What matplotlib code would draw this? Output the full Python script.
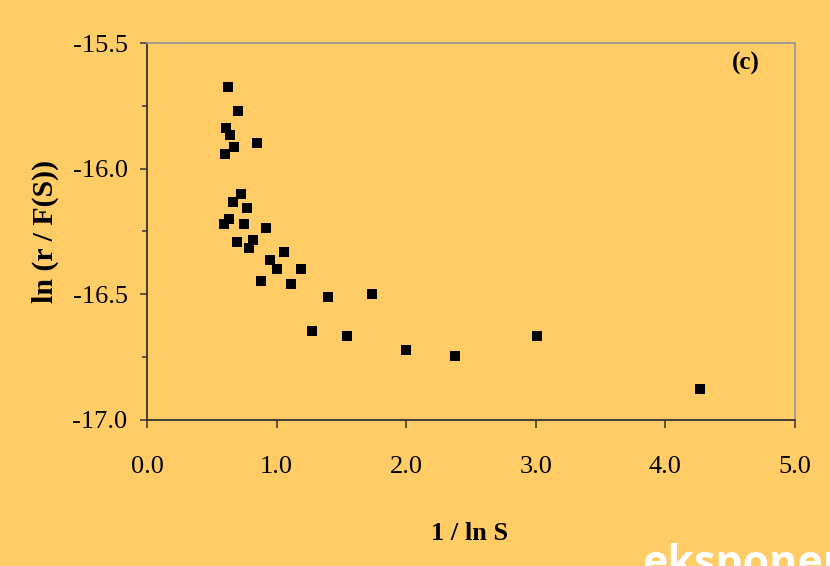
import matplotlib
matplotlib.use("Agg")
import matplotlib.pyplot as plt
from matplotlib.ticker import MultipleLocator, FormatStrFormatter

# Data
inv_ln_s = [0.625, 0.702, 0.610, 0.640, 0.671, 0.849, 0.602, 0.725, 0.664, 0.772,
            0.633, 0.594, 0.748, 0.918, 0.694, 0.818, 0.787, 1.057, 0.949, 1.003,
            1.188, 0.880, 1.111, 1.397, 1.736, 1.273, 1.543, 1.998, 2.377, 3.009,
            4.267]
ln_r_fs = [-15.675, -15.771, -15.838, -15.866, -15.914, -15.898, -15.942, -16.101,
           -16.133, -16.157, -16.200, -16.220, -16.220, -16.236, -16.292, -16.284,
           -16.316, -16.332, -16.364, -16.399, -16.399, -16.447, -16.459, -16.511,
           -16.499, -16.646, -16.666, -16.722, -16.745, -16.666, -16.877]

xlabel = "1 / ln S"
ylabel = "ln (r / F(S))"
panel_label = "(c)"

bg = "#FFCC66"
serif = ["Liberation Serif", "DejaVu Serif"]
plt.rcParams["font.family"] = serif
plt.rcParams["xtick.labelsize"] = 19
plt.rcParams["ytick.labelsize"] = 19

fig = plt.figure(figsize=(8.3, 5.66), dpi=100, facecolor=bg)
ax = fig.add_axes([0.1771, 0.258, 0.9578 - 0.1771, 0.924 - 0.258])
ax.set_facecolor(bg)

ax.scatter(inv_ln_s, ln_r_fs, marker="s", s=6.8**2, color="black", zorder=3,
           linewidths=0)

ax.set_xlim(0, 5)
ax.set_ylim(-17.0, -15.5)
ax.xaxis.set_major_locator(MultipleLocator(1.0))
ax.yaxis.set_major_locator(MultipleLocator(0.5))
ax.yaxis.set_minor_locator(MultipleLocator(0.25))
ax.xaxis.set_major_formatter(FormatStrFormatter("%.1f"))
ax.yaxis.set_major_formatter(FormatStrFormatter("%.1f"))

for side in ("left", "bottom"):
    ax.spines[side].set_color("#333333")
    ax.spines[side].set_linewidth(1.3)
for side in ("top", "right"):
    ax.spines[side].set_color("#999999")
    ax.spines[side].set_linewidth(1.3)

ax.tick_params(axis="x", which="major", direction="out", length=6, width=1.1,
               color="#333333", pad=20)
ax.tick_params(axis="y", which="major", direction="out", length=5, width=1.1,
               color="#333333", pad=9)
ax.tick_params(axis="y", which="minor", direction="out", length=3.6, width=1.1,
               color="#333333")

ax.set_xlabel(xlabel, fontsize=19, fontweight="bold")
ax.xaxis.set_label_coords(0.4985, -0.30)
ax.xaxis.label.set_va("center")
ax.set_ylabel(ylabel, fontsize=21.5, fontweight="bold")
ax.yaxis.set_label_coords(-0.157, 0.501)
ax.yaxis.label.set_va("center")

ax.text(0.924, 0.947, panel_label, transform=ax.transAxes, fontsize=18,
        fontweight="bold", ha="center", va="center")

# watermark
fig.text(642 / 830, 1 - 576 / 566, "eksponent", color="white", fontsize=31,
         fontweight="bold", family=["Open Sans", "DejaVu Sans"], ha="left",
         va="baseline")

fig.savefig("out.png", dpi=100, facecolor=bg)
